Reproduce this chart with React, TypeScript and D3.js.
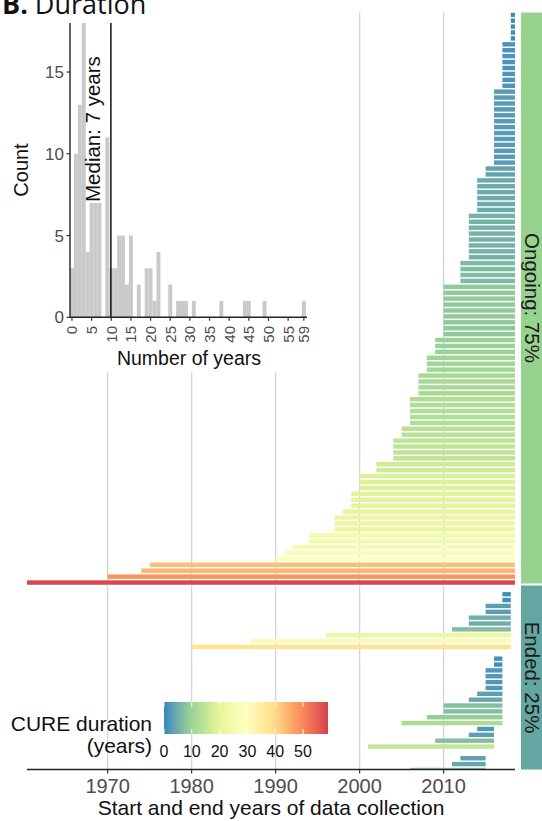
import React from "react";
import * as d3 from "d3";

// inset histogram: number of CUREs per duration (1-year bins, 0..59)
const HIST_COUNTS = [
  3, 10, 13, 18, 4, 7, 7, 7, 0, 11, 3, 3, 5, 5, 2, 5, 0, 2, 0, 3, 3, 1, 4, 0, 0,
  2, 0, 1, 1, 1, 0, 1, 0, 0, 0, 0, 0, 0, 1, 0, 0, 0, 0, 0, 1, 1, 0, 0, 0, 1, 0,
  0, 0, 0, 0, 0, 0, 0, 0, 1,
];
const HIST_X_TICKS = [0, 5, 10, 15, 20, 25, 30, 35, 40, 45, 50, 55, 59];
const HIST_Y_TICKS = [0, 5, 10, 15];
const MEDIAN_LINE_AT = 9.9; // where the line sits on the inset axis
const MEDIAN_LABEL = "Median: 7 years";

// start years of ongoing CUREs (one row each, top to bottom)
const ONGOING_START = [
  2018, 2018, 2018, 2018, 2018,
  2017, 2017, 2017, 2017, 2017, 2017, 2017, 2017,
  2016, 2016, 2016, 2016, 2016, 2016, 2016, 2016, 2016, 2016, 2016, 2016, 2016,
  2015, 2015,
  2014, 2014, 2014, 2014, 2014, 2014,
  2013, 2013, 2013, 2013, 2013, 2013, 2013, 2013,
  2012, 2012, 2012, 2012,
  2010, 2010, 2010, 2010, 2010, 2010, 2010, 2010, 2010,
  2009, 2009, 2009,
  2008, 2008, 2008,
  2007, 2007, 2007, 2007,
  2006, 2006, 2006, 2006, 2006,
  2005, 2005,
  2004, 2004, 2004, 2004,
  2002, 2002,
  2000, 2000, 2000,
  1999, 1999, 1999,
  1998,
  1997, 1997, 1997,
  1994, 1994,
  1992, 1991, 1990,
  1975, 1974, 1970, 1960.4,
];
const ONGOING_END = 2018.5;

// ended CUREs (null = empty row)
const ENDED_START = [
  2017, 2017, 2015, 2015, 2013, 2013, 2011, 1996, 1987, 1980, null,
  2016, 2016, 2015, 2015, 2015, 2015, 2014, 2013, 2010, 2010, 2008, 2005,
  2014, 2013, 2009, 2001, null,
  2012, 2011, 2006,
];
const ENDED_END = [
  2018, 2018, 2018, 2018, 2018, 2018, 2018, 2018, 2018, 2018, null,
  2017, 2017, 2017, 2017, 2017, 2017, 2017, 2017, 2017, 2017, 2017, 2017,
  2016, 2016, 2016, 2016, null,
  2015, 2015, 2015,
];

const YEAR_TICKS = [1970, 1980, 1990, 2000, 2010];
const LEGEND_TICKS = [0, 10, 20, 30, 40, 50];
const DURATION_MAX = 59;
const SPECTRAL = ["#3288BD", "#99D594", "#E6F598", "#FFFFBF", "#FEE08B", "#FC8D59", "#D53E4F"];
const STRIPS = ["Ongoing: 75%", "Ended: 25%"];
const STRIP_FILLS = ["#97d28f", "#63a6a2"];

const FONT = "'Liberation Sans', Arial, sans-serif";

export default function App() {
  const x = d3
    .scaleLinear()
    .domain([d3.min(ONGOING_START)!, ONGOING_END])
    .range([27, 515]);

  const color = d3
    .scaleLinear<string>()
    .domain(SPECTRAL.map((_, i) => (i * DURATION_MAX) / (SPECTRAL.length - 1)))
    .range(SPECTRAL)
    .interpolate(d3.interpolateLab)
    .clamp(true);

  const yOn = d3
    .scaleBand<number>()
    .domain(d3.range(ONGOING_START.length))
    .range([11.8, 585.5])
    .paddingInner(0.25)
    .paddingOuter(0.125);

  const yEnd = d3
    .scaleBand<number>()
    .domain(d3.range(ENDED_START.length))
    .range([591.3, 772.9])
    .paddingInner(0.25)
    .paddingOuter(0.125);

  const onTop = 12.5,
    onBottom = 583.5,
    endTop = 585.5,
    axisY = 769.5;

  // inset scales
  const hx = d3.scaleLinear().domain([-0.5, 59.8]).range([70, 307]);
  const hy = d3.scaleLinear().domain([0, 18]).range([317.3, 23]);

  // legend
  const lx = d3.scaleLinear().domain([0, DURATION_MAX]).range([164, 328]);
  const gradStops = d3.range(0, DURATION_MAX + 0.01, DURATION_MAX / 20);

  return (
    <svg
      width={542}
      height={821}
      style={{ position: "absolute", left: 0, top: 0, background: "#fff" }}
      fontFamily={FONT}
    >
      <defs>
        <clipPath id="clip-on">
          <rect x={27} y={onTop} width={488} height={onBottom - onTop + 2} />
        </clipPath>
        <clipPath id="clip-end">
          <rect x={27} y={endTop} width={488} height={axisY - endTop} />
        </clipPath>
        <linearGradient id="legend-grad" x1="0" x2="1" y1="0" y2="0">
          {gradStops.map((v) => (
            <stop key={v} offset={v / DURATION_MAX} stopColor={color(v)} />
          ))}
        </linearGradient>
      </defs>

      {/* grid lines */}
      {YEAR_TICKS.map((t) => (
        <g key={t}>
          <line x1={x(t)} x2={x(t)} y1={onTop} y2={onBottom} stroke="#d6d6d6" strokeWidth={1.4} />
          <line x1={x(t)} x2={x(t)} y1={endTop} y2={axisY} stroke="#d6d6d6" strokeWidth={1.4} />
        </g>
      ))}

      {/* ongoing bars */}
      <g clipPath="url(#clip-on)">
        {ONGOING_START.map((s, i) => (
          <rect
            key={i}
            x={x(s)}
            y={yOn(i)!}
            width={x(ONGOING_END) - x(s)}
            height={yOn.bandwidth()}
            fill={color(ONGOING_END - s)}
          />
        ))}
      </g>

      {/* ended bars */}
      <g clipPath="url(#clip-end)">
        {ENDED_START.map((s, i) => {
          const e = ENDED_END[i];
          if (s == null || e == null) return null;
          return (
            <rect
              key={i}
              x={x(s)}
              y={yEnd(i)!}
              width={x(e) - x(s)}
              height={yEnd.bandwidth()}
              fill={color(e - s)}
            />
          );
        })}
      </g>

      {/* strips */}
      {[
        [onTop, onBottom],
        [endTop, axisY],
      ].map(([a, b], i) => (
        <g key={i}>
          <rect x={521} y={a} width={30} height={b - a} fill={STRIP_FILLS[i]} />
          <text
            transform={`translate(524.5,${(a + b) / 2}) rotate(90)`}
            textAnchor="middle"
            fontSize={20.5}
            fill="#1a1a1a"
          >
            {STRIPS[i]}
          </text>
        </g>
      ))}

      {/* x axis */}
      <line x1={27} x2={515} y1={axisY} y2={axisY} stroke="#222" strokeWidth={1.6} />
      {YEAR_TICKS.map((t) => (
        <g key={t}>
          <line x1={x(t)} x2={x(t)} y1={axisY} y2={axisY + 4} stroke="#333" strokeWidth={1.2} />
          <text x={x(t)} y={793} textAnchor="middle" fontSize={20} fill="#4d4d4d">
            {t}
          </text>
        </g>
      ))}
      <text x={271} y={815} textAnchor="middle" fontSize={21} fill="#111">
        Start and end years of data collection
      </text>

      {/* legend */}
      <text x={152} y={731} textAnchor="end" fontSize={21} fill="#111">
        CURE duration
      </text>
      <text x={152} y={753} textAnchor="end" fontSize={21} fill="#111">
        (years)
      </text>
      <rect x={lx(0)} y={702} width={lx(DURATION_MAX) - lx(0)} height={32} fill="url(#legend-grad)" />
      {LEGEND_TICKS.map((t) => (
        <g key={t}>
          <line x1={lx(t)} x2={lx(t)} y1={702} y2={707} stroke="#fff" strokeWidth={1} />
          <line x1={lx(t)} x2={lx(t)} y1={729} y2={734} stroke="#fff" strokeWidth={1} />
          <text x={lx(t)} y={757} textAnchor="middle" fontSize={16} fill="#111">
            {t}
          </text>
        </g>
      ))}

      {/* inset histogram */}
      <rect x={0} y={0} width={330} height={372} fill="#fff" />
      {HIST_COUNTS.map((c, v) =>
        c > 0 ? (
          <rect
            key={v}
            x={hx(v - 0.5)}
            y={hy(c)}
            width={hx(v + 0.5) - hx(v - 0.5)}
            height={hy(0) - hy(c)}
            fill="#c9c9c9"
          />
        ) : null
      )}
      <line x1={hx(MEDIAN_LINE_AT)} x2={hx(MEDIAN_LINE_AT)} y1={23} y2={hy(0)} stroke="#111" strokeWidth={1.5} />
      <text
        transform={`translate(100,202) rotate(-90)`}
        fontSize={20.5}
        fill="#111"
      >
        {MEDIAN_LABEL}
      </text>
      <line x1={70} x2={70} y1={23} y2={hy(0)} stroke="#222" strokeWidth={1.4} />
      <line x1={70} x2={307} y1={hy(0)} y2={hy(0)} stroke="#222" strokeWidth={1.4} />
      {HIST_Y_TICKS.map((t) => (
        <g key={t}>
          <line x1={66.5} x2={70} y1={hy(t)} y2={hy(t)} stroke="#333" strokeWidth={1.2} />
          <text x={64} y={hy(t)} dy="0.35em" textAnchor="end" fontSize={17} fill="#4d4d4d">
            {t}
          </text>
        </g>
      ))}
      {HIST_X_TICKS.map((t) => (
        <g key={t}>
          <line x1={hx(t)} x2={hx(t)} y1={hy(0)} y2={hy(0) + 3.5} stroke="#333" strokeWidth={1.2} />
          <text
            transform={`translate(${hx(t) + 5.4},${326}) rotate(-90)`}
            textAnchor="end"
            fontSize={15}
            fill="#4d4d4d"
          >
            {t}
          </text>
        </g>
      ))}
      <text transform="translate(28,170) rotate(-90)" textAnchor="middle" fontSize={20} fill="#111">
        Count
      </text>
      <text x={189} y={365} textAnchor="middle" fontSize={19.5} fill="#111">
        Number of years
      </text>

      {/* panel title */}
      <text x={2} y={13.5} fontSize={27} fill="#111" fontFamily="'Open Sans', sans-serif">
        <tspan fontWeight="bold">B.</tspan> Duration
      </text>
    </svg>
  );
}
